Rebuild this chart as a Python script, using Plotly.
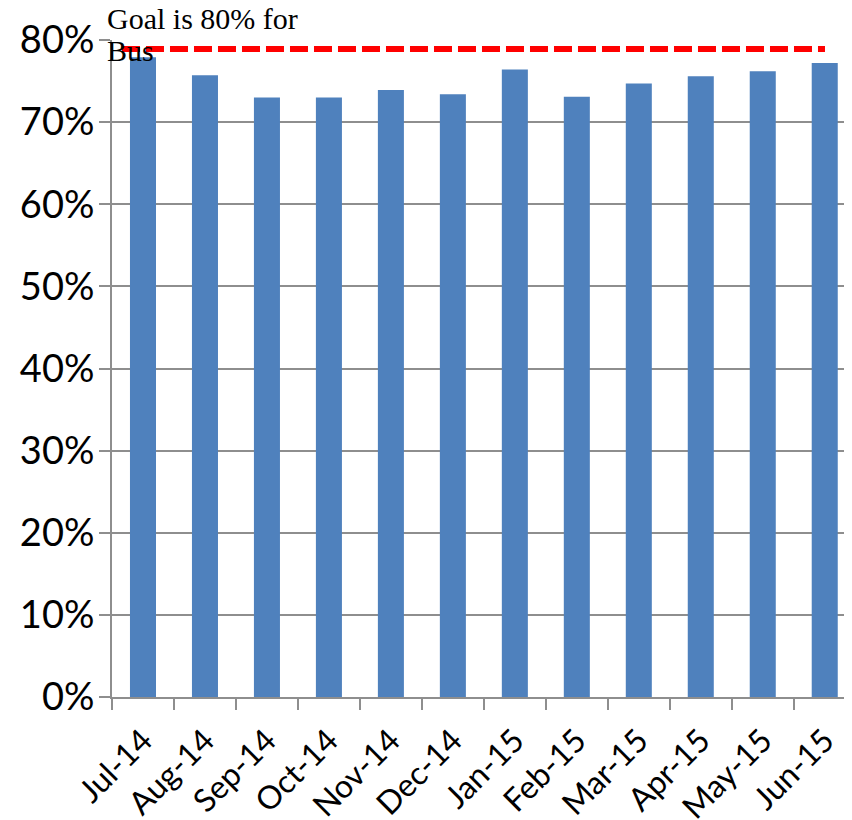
import plotly.graph_objects as go

months = ["Jul-14", "Aug-14", "Sep-14", "Oct-14", "Nov-14", "Dec-14",
          "Jan-15", "Feb-15", "Mar-15", "Apr-15", "May-15", "Jun-15"]
on_time = [0.779, 0.757, 0.730, 0.730, 0.739, 0.734,
           0.764, 0.731, 0.747, 0.756, 0.762, 0.772]
goal_value = 0.789
goal_text_line1 = "Goal is 80% for"
goal_text_line2 = "Bus"
y_ticks = [0, 0.1, 0.2, 0.3, 0.4, 0.5, 0.6, 0.7, 0.8]

GRID = "#8e8e8e"

fig = go.Figure()
fig.add_trace(go.Bar(
    x=months, y=on_time, marker=dict(color="#4f81bd", line=dict(width=0)),
    width=0.42, showlegend=False,
))

fig.add_shape(type="line", xref="paper", yref="y",
              x0=0.0135, x1=0.9635, y0=goal_value, y1=goal_value,
              line=dict(color="#ff0000", width=6, dash="18px,6px"))

fig.add_annotation(xref="paper", yref="paper", x=-0.009, y=1.0 + 22 / 657,
                   text=goal_text_line1, showarrow=False, xanchor="left", yanchor="middle",
                   font=dict(family="Liberation Serif", size=30, color="black"))
fig.add_annotation(xref="paper", yref="paper", x=-0.009, y=1.0 - 11 / 657,
                   text=goal_text_line2, showarrow=False, xanchor="left", yanchor="middle",
                   font=dict(family="Liberation Serif", size=30, color="black"))

fig.update_layout(
    width=844, height=812,
    margin=dict(l=104, r=0, t=32, b=123, autoexpand=False),
    plot_bgcolor="white", paper_bgcolor="white",
    xaxis=dict(
        type="category", tickson="boundaries", range=[-0.5, 11.44],
        automargin=False,
        showgrid=False, showline=True, linecolor=GRID, linewidth=2,
        ticks="outside", ticklen=11, tickwidth=2, tickcolor=GRID,
        tickangle=-45, ticklabelstandoff=10,
        tickfont=dict(family="Lato", size=32, color="black"),
    ),
    yaxis=dict(
        range=[0, 0.8], tickvals=y_ticks, tickformat=".0%",
        automargin=False,
        showgrid=True, gridcolor=GRID, gridwidth=2,
        showline=True, linecolor=GRID, linewidth=2,
        ticks="outside", ticklen=11, tickwidth=2, tickcolor=GRID,
        ticklabelstandoff=-3,
        tickfont=dict(family="Lato", size=38, color="black"),
        zeroline=False,
    ),
)

fig.write_html("out.html")
